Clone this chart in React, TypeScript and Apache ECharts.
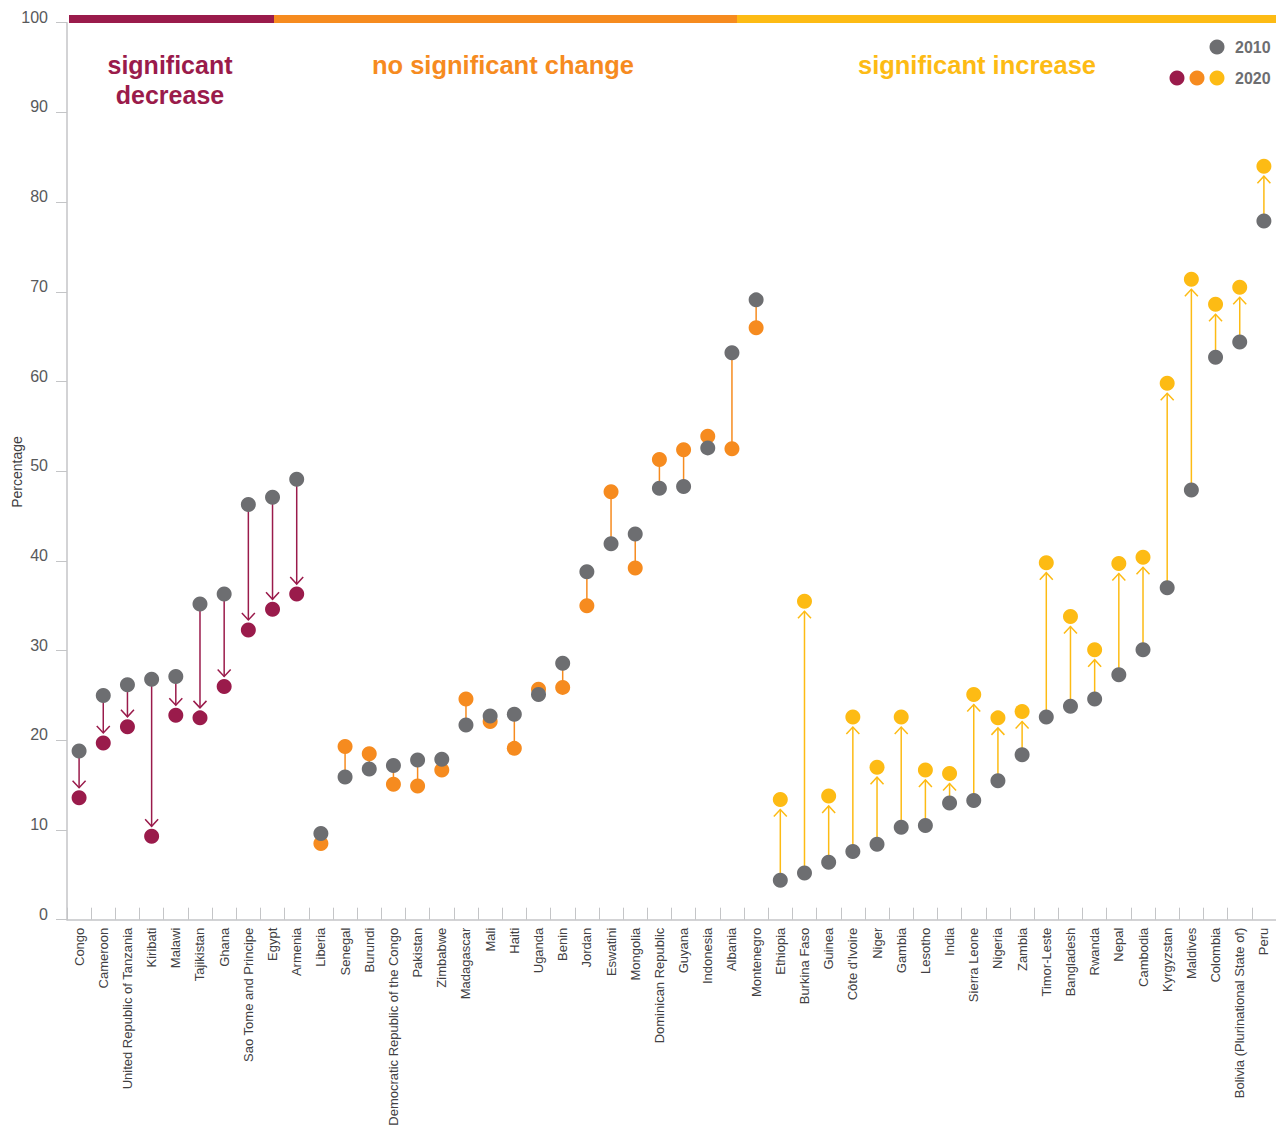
import React, { useEffect, useRef } from "react";
import * as echarts from "echarts";

const countries = [
  "Congo", "Cameroon", "United Republic of Tanzania", "Kiribati", "Malawi", "Tajikistan", "Ghana",
  "Sao Tome and Principe", "Egypt", "Armenia",
  "Liberia", "Senegal", "Burundi", "Democratic Republic of the Congo", "Pakistan", "Zimbabwe",
  "Madagascar", "Mali", "Haiti", "Uganda", "Benin", "Jordan", "Eswatini", "Mongolia",
  "Dominican Republic", "Guyana", "Indonesia", "Albania", "Montenegro",
  "Ethiopia", "Burkina Faso", "Guinea", "Côte d'Ivoire", "Niger", "Gambia", "Lesotho", "India",
  "Sierra Leone", "Nigeria", "Zambia", "Timor-Leste", "Bangladesh", "Rwanda", "Nepal", "Cambodia",
  "Kyrgyzstan", "Maldives", "Colombia", "Bolivia (Plurinational State of)", "Peru",
];

const values2010 = [
  18.8, 25.0, 26.2, 26.8, 27.1, 35.2, 36.3, 46.3, 47.1, 49.1,
  9.6, 15.9, 16.8, 17.2, 17.8, 17.9, 21.7, 22.7, 22.9, 25.1, 28.6, 38.8, 41.9, 43.0, 48.1, 48.3, 52.6, 63.2, 69.1,
  4.4, 5.2, 6.4, 7.6, 8.4, 10.3, 10.5, 13.0, 13.3, 15.5, 18.4, 22.6, 23.8, 24.6, 27.3, 30.1, 37.0, 47.9, 62.7, 64.4, 77.9,
];

const values2020 = [
  13.6, 19.7, 21.5, 9.3, 22.8, 22.5, 26.0, 32.3, 34.6, 36.3,
  8.5, 19.3, 18.5, 15.1, 14.9, 16.7, 24.6, 22.1, 19.1, 25.7, 25.9, 35.0, 47.7, 39.2, 51.3, 52.4, 53.9, 52.5, 66.0,
  13.4, 35.5, 13.8, 22.6, 17.0, 22.6, 16.7, 16.3, 25.1, 22.5, 23.2, 39.8, 33.8, 30.1, 39.7, 40.4, 59.8, 71.4, 68.6, 70.5, 84.0,
];

// d = significant decrease, n = no significant change, i = significant increase
const groups = [
  "d", "d", "d", "d", "d", "d", "d", "d", "d", "d",
  "n", "n", "n", "n", "n", "n", "n", "n", "n", "n", "n", "n", "n", "n", "n", "n", "n", "n", "n",
  "i", "i", "i", "i", "i", "i", "i", "i", "i", "i", "i", "i", "i", "i", "i", "i", "i", "i", "i", "i", "i",
];

const groupTitles = ["significant\ndecrease", "no significant change", "significant increase"];
const legendLabels = ["2010", "2020"];
const yAxisTitle = "Percentage";

const GRAY = "#6D6E71";
const AXIS = "#C4C5C7";
const groupColor: Record<string, string> = { d: "#9A1B4B", n: "#F68B1F", i: "#FDBB14" };
const FONT = "'Liberation Sans', Arial, sans-serif";

export default function App() {
  const ref = useRef<HTMLDivElement>(null);

  useEffect(() => {
    if (!ref.current) return;
    const chart = echarts.init(ref.current, undefined, { renderer: "svg" });

    const rangeData = countries.map((_, i) => [i, values2010[i], values2020[i]]);

    const option: any = {
      animation: false,
      backgroundColor: "#fff",
      grid: { left: 67, right: 0, top: 22.7, bottom: 206.3, containLabel: false, outerBoundsMode: "none" },
      xAxis: {
        type: "category",
        data: countries,
        boundaryGap: true,
        axisLine: { show: true, lineStyle: { color: AXIS, width: 1.5 } },
        axisTick: { show: true, inside: true, length: 12, interval: 0, lineStyle: { color: AXIS, width: 1 } },
        axisLabel: {
          interval: 0,
          rotate: 90,
          margin: 8,
          color: "#414042",
          fontSize: 13,
          fontFamily: FONT,
        },
        splitLine: { show: false },
      },
      yAxis: {
        type: "value",
        min: 0,
        max: 100,
        interval: 10,
        axisLine: { show: true, lineStyle: { color: AXIS, width: 1.5 } },
        axisTick: { show: true, length: 11, lineStyle: { color: AXIS, width: 1 } },
        axisLabel: {
          color: "#58595B",
          fontSize: 16,
          fontFamily: FONT,
          margin: 19,
          verticalAlign: "bottom",
          lineHeight: 11,
        },
        splitLine: { show: false },
      },
      series: [
        {
          type: "custom",
          z: 1,
          silent: true,
          clip: false,
          data: rangeData,
          encode: { x: 0, y: [1, 2] },
          renderItem: (params: any, api: any) => {
            const i = api.value(0);
            const p1 = api.coord([i, api.value(1)]);
            const p2 = api.coord([i, api.value(2)]);
            const g = groups[i];
            const style = { stroke: groupColor[g], lineWidth: 1.5, fill: null };
            if (g === "n") {
              return { type: "line", shape: { x1: p1[0], y1: p1[1], x2: p2[0], y2: p2[1] }, style };
            }
            const dir = p2[1] > p1[1] ? 1 : -1;
            const tipY = p2[1] - dir * 10;
            return {
              type: "group",
              children: [
                { type: "line", shape: { x1: p1[0], y1: p1[1], x2: p2[0], y2: tipY }, style },
                {
                  type: "polyline",
                  shape: {
                    points: [
                      [p2[0] - 6.5, tipY - dir * 7],
                      [p2[0], tipY],
                      [p2[0] + 6.5, tipY - dir * 7],
                    ],
                  },
                  style,
                },
              ],
            };
          },
        },
        {
          type: "scatter",
          name: "2020",
          z: 2,
          symbolSize: 15,
          data: values2020.map((v, i) => [i, v]),
          itemStyle: { opacity: 1, color: (p: any) => groupColor[groups[p.dataIndex]] },
        },
        {
          type: "scatter",
          name: "2010",
          z: 3,
          symbolSize: 15,
          data: values2010.map((v, i) => [i, v]),
          itemStyle: { opacity: 1, color: GRAY },
        },
      ],
      graphic: [
        { type: "rect", left: 69, top: 15, shape: { width: 205, height: 8 }, style: { fill: groupColor.d } },
        { type: "rect", left: 274, top: 15, shape: { width: 463, height: 8 }, style: { fill: groupColor.n } },
        { type: "rect", left: 737, top: 15, shape: { width: 539, height: 8 }, style: { fill: groupColor.i } },
        {
          type: "text", x: 17, y: 472, rotation: Math.PI / 2,
          style: {
            text: yAxisTitle, fill: "#414042", font: `14px ${FONT}`,
            textAlign: "center", textVerticalAlign: "middle", align: "center", verticalAlign: "middle",
          },
        },
        {
          type: "text", x: 170, y: 80,
          style: {
            text: groupTitles[0], fill: groupColor.d, font: `bold 25px ${FONT}`, lineHeight: 30,
            textAlign: "center", textVerticalAlign: "middle", align: "center", verticalAlign: "middle",
          },
        },
        {
          type: "text", x: 503, y: 65,
          style: {
            text: groupTitles[1], fill: groupColor.n, font: `bold 25.5px ${FONT}`,
            textAlign: "center", textVerticalAlign: "middle", align: "center", verticalAlign: "middle",
          },
        },
        {
          type: "text", x: 977, y: 65,
          style: {
            text: groupTitles[2], fill: groupColor.i, font: `bold 25.5px ${FONT}`,
            textAlign: "center", textVerticalAlign: "middle", align: "center", verticalAlign: "middle",
          },
        },
        { type: "circle", shape: { cx: 1217, cy: 47, r: 7.5 }, style: { fill: GRAY } },
        { type: "circle", shape: { cx: 1177, cy: 78, r: 7.5 }, style: { fill: groupColor.d } },
        { type: "circle", shape: { cx: 1197, cy: 78, r: 7.5 }, style: { fill: groupColor.n } },
        { type: "circle", shape: { cx: 1217, cy: 78, r: 7.5 }, style: { fill: groupColor.i } },
        {
          type: "text", x: 1235, y: 47,
          style: {
            text: legendLabels[0], fill: GRAY, font: `bold 16px ${FONT}`,
            textAlign: "left", textVerticalAlign: "middle", align: "left", verticalAlign: "middle",
          },
        },
        {
          type: "text", x: 1235, y: 78,
          style: {
            text: legendLabels[1], fill: GRAY, font: `bold 16px ${FONT}`,
            textAlign: "left", textVerticalAlign: "middle", align: "left", verticalAlign: "middle",
          },
        },
      ],
    };

    chart.setOption(option);
    return () => chart.dispose();
  }, []);

  return (
    <div
      ref={ref}
      style={{ position: "fixed", left: 0, top: 0, width: 1276, height: 1126, background: "#fff" }}
    />
  );
}
